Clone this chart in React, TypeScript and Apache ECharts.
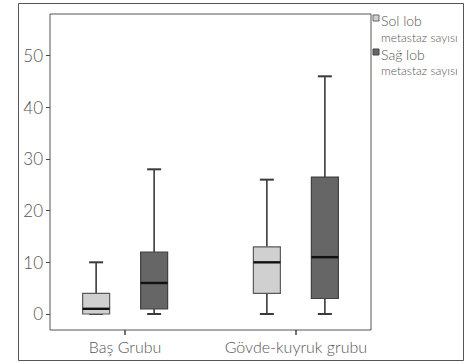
import React, { useEffect, useRef } from "react";
import * as echarts from "echarts";

// Data (min, Q1, median, Q3, max)
const categories = ["Baş Grubu", "Gövde-kuyruk grubu"];
const seriesNames = ["Sol lob metastaz sayısı", "Sağ lob metastaz sayısı"];
const solLob = [
  [0, 0, 1, 4, 10],
  [0, 4, 10, 13, 26],
];
const sagLob = [
  [0, 1, 6, 12, 28],
  [0, 3, 11, 26.5, 46],
];
const yTicks = [0, 10, 20, 30, 40, 50];

const FONT = "Lato";
const TEXT = "#555";

function makeRender(offset: number, fill: string, stroke: string) {
  return (params: any, api: any) => {
    const x = api.value(0);
    const v = [1, 2, 3, 4, 5].map((i) => api.value(i));
    const c0 = api.coord([x, v[0]]);
    const cx = c0[0] + offset;
    const yMin = c0[1];
    const yQ1 = api.coord([x, v[1]])[1];
    const yMed = api.coord([x, v[2]])[1];
    const yQ3 = api.coord([x, v[3]])[1];
    const yMax = api.coord([x, v[4]])[1];
    const bw = 27;
    const cw = 14;
    const wStyle = { stroke: "#3a3a3a", lineWidth: 1.6 };
    return {
      type: "group",
      children: [
        { type: "line", shape: { x1: cx, y1: yMax, x2: cx, y2: yQ3 }, style: wStyle },
        { type: "line", shape: { x1: cx, y1: yQ1, x2: cx, y2: yMin }, style: wStyle },
        { type: "line", shape: { x1: cx - cw / 2, y1: yMax, x2: cx + cw / 2, y2: yMax }, style: { stroke: "#3a3a3a", lineWidth: 2 } },
        { type: "line", shape: { x1: cx - cw / 2, y1: yMin, x2: cx + cw / 2, y2: yMin }, style: { stroke: "#3a3a3a", lineWidth: 2 } },
        {
          type: "rect",
          shape: { x: cx - bw / 2, y: yQ3, width: bw, height: Math.max(yQ1 - yQ3, 0.5) },
          style: { fill, stroke, lineWidth: 1.2 },
        },
        { type: "line", shape: { x1: cx - bw / 2, y1: yMed, x2: cx + bw / 2, y2: yMed }, style: { stroke: "#111", lineWidth: 2.4 } },
      ],
    };
  };
}

export default function App() {
  const ref = useRef<HTMLDivElement>(null);
  useEffect(() => {
    if (!ref.current) return;
    const chart = echarts.init(ref.current, null, { renderer: "svg" });
    const option: any = {
      animation: false,
      grid: {
        left: 50,
        top: 14,
        width: 321,
        height: 316,
        show: true,
        borderColor: "#555",
        borderWidth: 1,
        backgroundColor: "transparent",
      },
      xAxis: {
        type: "value",
        min: -0.44,
        max: 1.44,
        splitLine: { show: false },
        axisLine: { show: false, onZero: false },
        axisTick: { show: true, customValues: [0, 1], length: 5, lineStyle: { color: "#444", width: 1.5 } },
        axisLabel: {
          customValues: [0, 1],
          formatter: (v: number) => categories[Math.round(v)] ?? "",
          color: TEXT,
          fontFamily: FONT,
          fontWeight: 300,
          fontSize: 16,
          margin: 8,
        },
      },
      yAxis: {
        type: "value",
        min: -3.1,
        max: 58.06,
        splitLine: { show: false },
        axisLine: { show: false, onZero: false },
        axisTick: { show: true, customValues: yTicks, length: 4, lineStyle: { color: "#444" } },
        axisLabel: {
          customValues: yTicks,
          color: TEXT,
          fontFamily: FONT,
          fontWeight: 300,
          fontSize: 17,
          margin: 7,
        },
      },
      graphic: [
        {
          type: "rect",
          shape: { x: 18.5, y: 3.5, width: 445, height: 357 },
          style: { fill: "none", stroke: "#555", lineWidth: 1 },
          silent: true,
        },
        { type: "rect", shape: { x: 373, y: 15, width: 6, height: 6 }, style: { fill: "#d0d0d0", stroke: "#666", lineWidth: 1 } },
        { type: "text", x: 381, y: 13, style: { text: "Sol lob", font: `300 14px ${FONT}`, fill: TEXT } },
        { type: "text", x: 381, y: 31, style: { text: "metastaz sayısı", font: `300 12px ${FONT}`, fill: TEXT } },
        { type: "rect", shape: { x: 373, y: 49, width: 6, height: 6 }, style: { fill: "#666", stroke: "#444", lineWidth: 1 } },
        { type: "text", x: 381, y: 47, style: { text: "Sağ lob", font: `300 14px ${FONT}`, fill: TEXT } },
        { type: "text", x: 381, y: 64, style: { text: "metastaz sayısı", font: `300 12px ${FONT}`, fill: TEXT } },
      ],
      series: [
        {
          name: seriesNames[0],
          type: "custom",
          renderItem: makeRender(-29, "#d0d0d0", "#5a5a5a"),
          encode: { x: 0, y: [1, 2, 3, 4, 5] },
          data: solLob.map((d, i) => [i, ...d]),
        },
        {
          name: seriesNames[1],
          type: "custom",
          renderItem: makeRender(29, "#666666", "#404040"),
          encode: { x: 0, y: [1, 2, 3, 4, 5] },
          data: sagLob.map((d, i) => [i, ...d]),
        },
      ],
    };
    chart.setOption(option);
    return () => chart.dispose();
  }, []);
  return (
    <div
      ref={ref}
      style={{ position: "fixed", left: 0, top: 0, width: 467, height: 363, background: "#fff" }}
    />
  );
}
